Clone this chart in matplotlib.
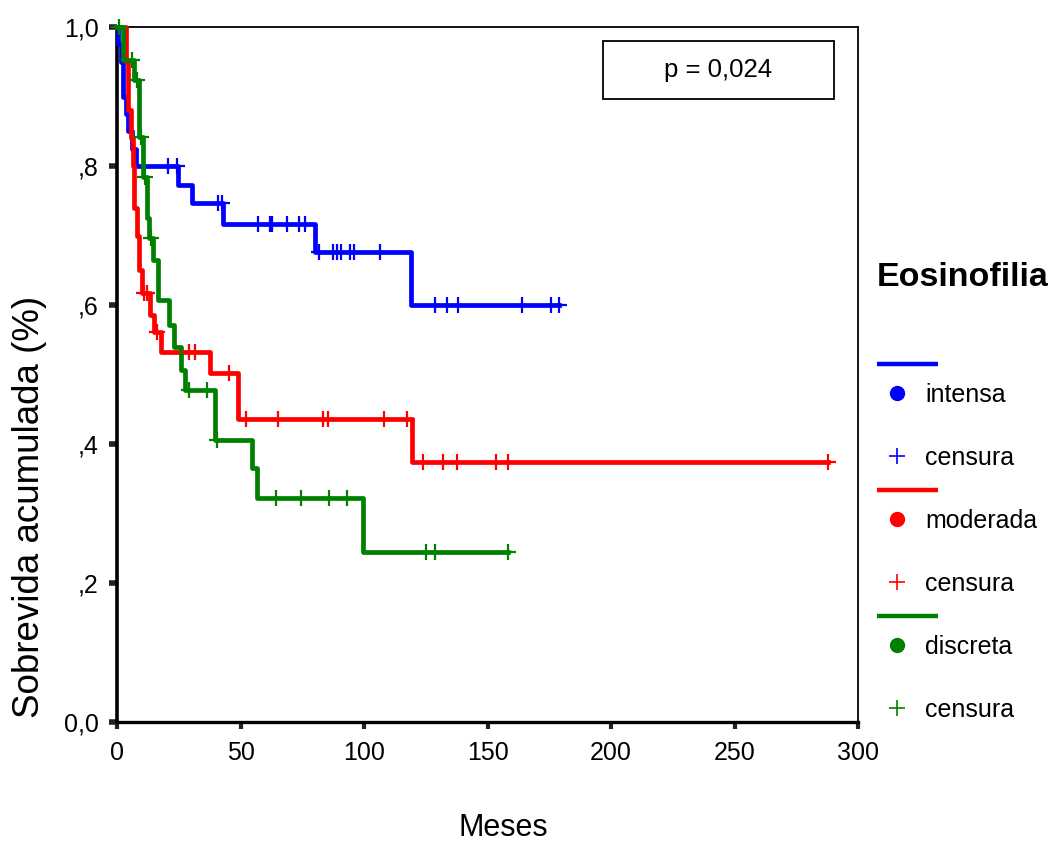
import numpy as np
import matplotlib
matplotlib.use("Agg")
import matplotlib.pyplot as plt
from matplotlib.patches import Rectangle

plt.rcParams['font.family'] = ['Liberation Sans', 'DejaVu Sans']
NARROW = ['Liberation Sans Narrow', 'Liberation Sans', 'DejaVu Sans']

# ---------------- data ----------------
groups = ["intensa", "moderada", "discreta"]
colors = ["#0000ff", "#ff0000", "#008000"]

# step times (months) and survival after each step
intensa_t = [0.5, 1.5, 2.5, 3.5, 4.5, 6.0, 7.5, 24.7, 30.4, 43.0, 80.0, 119.0]
intensa_s = [0.975, 0.95, 0.90, 0.875, 0.85, 0.825, 0.80, 0.773, 0.747, 0.716, 0.676, 0.600]
intensa_c = [20.6, 24.3, 40.9, 42.5, 57.0, 62.0, 62.8, 69.0, 73.7, 76.0,
             81.8, 87.4, 89.0, 90.7, 94.3, 96.0, 106.5,
             128.7, 133.6, 138.0, 164.0, 175.7, 179.0]
intensa_end = 179.0

moderada_t = [3.5, 4.5, 5.5, 6.3, 7.0, 8.0, 9.0, 10.0, 13.5, 15.0, 18.0, 37.6, 48.8, 119.5]
moderada_s = [0.95, 0.88, 0.84, 0.80, 0.74, 0.70, 0.65, 0.617, 0.586, 0.561, 0.532, 0.502, 0.436, 0.374]
moderada_c = [10.8, 12.0, 16.2, 29.2, 31.6, 45.3, 52.2, 65.2, 83.4, 85.4, 108.0, 117.4,
              123.9, 132.0, 137.6, 153.4, 158.3, 287.9]
moderada_end = 287.9

discreta_t = [2.5, 6.8, 8.9, 10.5, 12.0, 13.0, 14.5, 16.5, 21.0, 23.0, 26.0, 27.5,
              39.7, 54.6, 56.6, 99.6]
discreta_s = [0.953, 0.924, 0.842, 0.784, 0.725, 0.696, 0.665, 0.607, 0.571, 0.54,
              0.506, 0.478, 0.406, 0.366, 0.322, 0.244]
discreta_c = [1.0, 6.0, 8.0, 9.7, 11.2, 13.6, 29.0, 36.4, 40.5, 64.4, 74.5, 85.8, 93.0,
              125.0, 128.7, 158.3]
discreta_end = 158.3

yticks = [0.0, 0.2, 0.4, 0.6, 0.8, 1.0]
ytick_labels = ["0,0", ",2", ",4", ",6", ",8", "1,0"]
xticks = [0, 50, 100, 150, 200, 250, 300]
xtick_labels = ["0", "50", "100", "150", "200", "250", "300"]
p_text = "p = 0,024"
legend_title = "Eosinofilia"
censor_label = "censura"

series = [
    (intensa_t, intensa_s, intensa_c, intensa_end),
    (moderada_t, moderada_s, moderada_c, moderada_end),
    (discreta_t, discreta_s, discreta_c, discreta_end),
]

# ---------------- figure ----------------
W, H = 1053, 841
fig = plt.figure(figsize=(W / 100, H / 100), dpi=100)
L, R, T, B = 117, 858, 27, 722
ax = fig.add_axes([L / W, 1 - B / H, (R - L) / W, (B - T) / H])

for (t, s, c, end), col in zip(series, colors):
    tt = np.concatenate([[0.0], t, [end]])
    ss = np.concatenate([[1.0], s, [s[-1]]])
    ax.step(tt, ss, where='post', color=col, lw=3.4, clip_on=False, zorder=3)
    c = np.asarray(c)
    idx = np.searchsorted(np.asarray(t), c, side='right')
    cy = np.concatenate([[1.0], s])[idx]
    ax.plot(c, cy, linestyle='none', marker='+', ms=12, mew=1.6, color=col,
            clip_on=False, zorder=4)

ax.set_xlim(0, 300)
ax.set_ylim(0, 1.0)
ax.set_xticks(xticks)
ax.set_xticklabels(xtick_labels, fontfamily=NARROW, fontsize=18)
ax.set_yticks(yticks)
ax.set_yticklabels(ytick_labels, fontfamily=NARROW, fontsize=18)
ax.tick_params(axis='y', length=6, width=4, color='#222222', pad=7)
ax.tick_params(axis='x', length=5, width=3, color='#222222', pad=9)
for side in ['top', 'right']:
    ax.spines[side].set_linewidth(1.3)
ax.spines['left'].set_linewidth(2.6)
ax.spines['bottom'].set_linewidth(2.4)

# overlay axes in pixel coordinates for texts / legend
ov = fig.add_axes([0, 0, 1, 1], zorder=5)
ov.set_xlim(0, W)
ov.set_ylim(H, 0)
ov.axis('off')

ov.text(30, 507, "Sobrevida acumulada (%)", rotation=90, ha='center', va='center',
        fontsize=26.5)
ov.text(503, 828, "Meses", ha='center', va='center', fontsize=22, fontfamily=NARROW)

# p-value box
ov.add_patch(Rectangle((603, 41), 231, 58, fill=False, lw=1.3, edgecolor='black'))
ov.text(718, 70, p_text, ha='center', va='center', fontsize=18.5)

# legend
ov.text(877, 277, legend_title, ha='left', va='center', fontsize=24.5, fontweight='bold')
row0 = 364
for i, (g, col) in enumerate(zip(groups, colors)):
    y0 = row0 + i * 126
    ov.plot([877, 938], [y0, y0], color=col, lw=3.2, solid_capstyle='butt')
    ov.plot([897], [y0 + 29], marker='o', ms=10, color=col, linestyle='none')
    ov.text(925, y0 + 31, g, ha='left', va='center', fontsize=18)
    ov.plot([897], [y0 + 92], marker='+', ms=12, mew=1.2, color=col, linestyle='none')
    ov.text(925, y0 + 94, censor_label, ha='left', va='center', fontsize=18)

fig.savefig("out.png", dpi=100)
